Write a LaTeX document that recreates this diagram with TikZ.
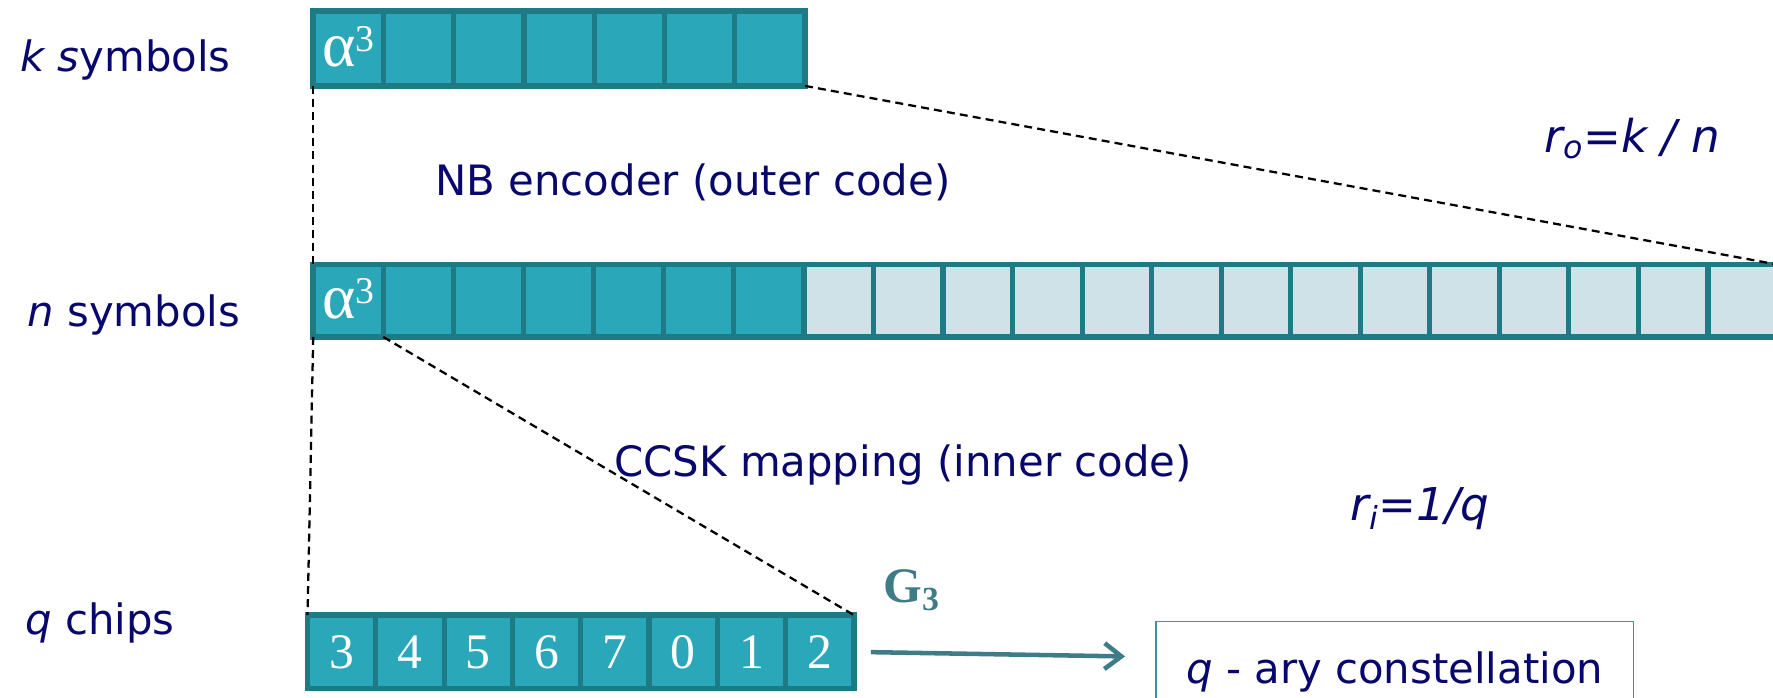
\documentclass[tikz,border=0pt]{standalone}
\usepackage{fontspec}
\setmainfont{DejaVu Sans}
\newfontfamily\chipfont{Liberation Serif}
\usetikzlibrary{arrows.meta}
\definecolor{cellfill}{RGB}{42,168,185}
\definecolor{cellline}{RGB}{30,122,132}
\definecolor{parityfill}{RGB}{206,226,231}
\definecolor{labelnavy}{RGB}{8,8,108}
\definecolor{mapteal}{RGB}{62,125,135}
\definecolor{boxteal}{RGB}{58,148,158}
\newcommand\symalpha{α\raisebox{0.27cm}{\fontsize{19}{21}\selectfont 3}}
\begin{document}
\begin{tikzpicture}[x=0.02cm, y=-0.02cm,
  lbl/.style={text=labelnavy, font=\fontsize{21.05}{25}\selectfont, inner sep=0pt, anchor=base west},
  rate/.style={lbl, font=\fontsize{22.76}{27}\selectfont\itshape},
  cellbase/.style={draw=cellline, line width=2.56pt, inner sep=0pt, outer sep=0pt, anchor=north west},
  datacell/.style={cellbase, fill=cellfill},
  paritycell/.style={cellbase, fill=parityfill},
  symcell/.style={datacell, text=white, text height=0.64cm, text depth=0pt,
    font=\chipfont\fontsize{32}{36}\selectfont},
  chipcell/.style={datacell, minimum width=1.208cm, minimum height=1.3cm, text=white,
    text height=0.58cm, text depth=0pt, font=\chipfont\fontsize{25}{30}\selectfont},
  rowframe/.style={draw=cellline, line width=2.85pt},
  dashlink/.style={draw=black, line width=1.14pt, dash pattern=on 4pt off 2.6pt},
  maparrow/.style={draw=mapteal, line width=2.28pt, -{Straight Barb[length=8.5pt,width=13pt]}},
]
\useasboundingbox (0,0) rectangle (1568,617);
\clip (0,0) rectangle (1568,617);

% information symbols (k)
\node[symcell, minimum width=1.2428cm, minimum height=1.32cm] (k1) at (277,10) {\symalpha};
\foreach \i in {2,...,7}
  \node[datacell, minimum width=1.2428cm, minimum height=1.32cm] (k\i) at ({277+(\i-1)*62.14},10) {};
\draw[rowframe] (k1.north west) rectangle (k7.south east);

% codeword symbols (n)
\node[symcell, minimum width=1.24cm, minimum height=1.28cm] (n1) at (277,234) {\symalpha};
\foreach \i in {2,...,7}
  \node[datacell, minimum width=1.24cm, minimum height=1.28cm] (n\i) at ({277+(\i-1)*62},234) {};
\foreach \i in {8,...,21}
  \node[paritycell, minimum width=1.23cm, minimum height=1.28cm] (n\i) at ({711+(\i-8)*61.5},234) {};
\draw[rowframe] (n1.north west) rectangle (n21.south east);

% CCSK chips (q)
\foreach \i/\d in {1/3,2/4,3/5,4/6,5/7,6/0,7/1,8/2}
  \node[chipcell] (q\i) at ({272+(\i-1)*60.4},544) {\d};
\draw[rowframe] (q1.north west) rectangle (q8.south east);

% expansion guides
\draw[dashlink] (k1.south west) -- (n1.north west);
\draw[dashlink] (k7.south east) -- (n21.north east);
\draw[dashlink] (n1.south west) -- (q1.north west);
\draw[dashlink] (n1.south east) -- (q8.north east);

% constellation mapper
\node[draw=boxteal, line width=0.85pt, anchor=north west, minimum width=8.45cm,
  minimum height=1.776cm, inner sep=0pt, text=labelnavy,
  font=\fontsize{21.05}{25}\selectfont] (cons) at (1021.5,549) {\textit{q} - ary constellation};
\coordinate (consin) at (1021.5,581);
\draw[maparrow, shorten <=0.3cm, shorten >=0.53cm] (q8.east) -- (consin);
\node[anchor=base west, inner sep=0pt, text=mapteal,
  font=\chipfont\bfseries\fontsize{25}{29}\selectfont] (gmap) at (781,533)
  {G\raisebox{-0.14cm}{\fontsize{17}{19}\selectfont 3}};

% labels
\node[lbl] (klab) at (17.7,63.4) {\textit{k s}ymbols};
\node[lbl] (nlab) at (24,289) {\textit{n} symbols};
\node[lbl] (qlab) at (22,561) {\textit{q} chips};
\node[lbl] (outer) at (384.7,172.5) {NB encoder (outer code)};
\node[lbl] (inner) at (543,421.5) {CCSK mapping (inner code)};
\node[rate] (ro) at (1365.5,135) {r\textsubscript{o}=k / n};
\node[rate] (ri) at (1194,460) {r\textsubscript{i}=1/q};
\end{tikzpicture}
\end{document}
